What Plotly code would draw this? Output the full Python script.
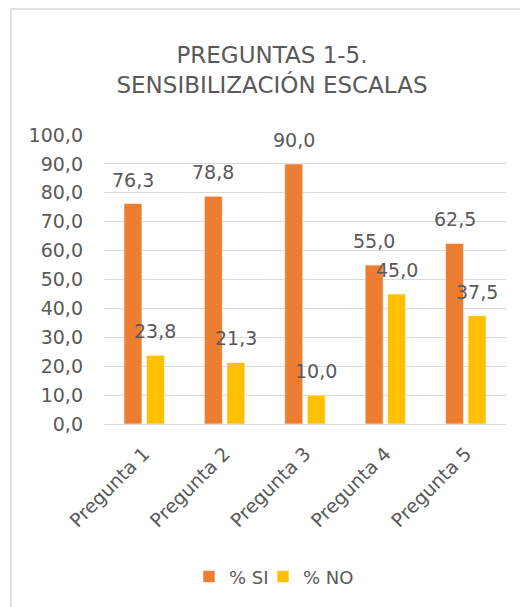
import plotly.graph_objects as go

categories = ["Pregunta 1", "Pregunta 2", "Pregunta 3", "Pregunta 4", "Pregunta 5"]
si_values = [76.3, 78.8, 90.0, 55.0, 62.5]
no_values = [23.8, 21.3, 10.0, 45.0, 37.5]
series_names = ["% SI", "% NO"]
title_text = "PREGUNTAS 1-5.<br>SENSIBILIZACIÓN ESCALAS"
y_ticks = [0, 10, 20, 30, 40, 50, 60, 70, 80, 90, 100]

ORANGE = "#ED7D31"
YELLOW = "#FFC000"
TEXT = "#595959"
GRID = "#D9D9D9"
FONT = "DejaVu Sans"

fig = go.Figure()
fig.add_trace(go.Bar(x=categories, y=si_values, name=series_names[0], legend="legend",
                     marker=dict(color=ORANGE, line=dict(color="white", width=0.6))))
fig.add_trace(go.Bar(x=categories, y=no_values, name=series_names[1], legend="legend2",
                     marker=dict(color=YELLOW, line=dict(color="white", width=0.6))))

# data labels above bars
annotations = []
for vals, shift in ((si_values, -11.25), (no_values, 11.25)):
    for c, v in zip(categories, vals):
        annotations.append(dict(x=c, y=v, xref="x", yref="y", text=f"{v:.1f}".replace(".", ","),
                                showarrow=False, xshift=shift, yshift=24, yanchor="middle",
                                font=dict(family=FONT, size=19, color=TEXT)))

legend_style = dict(orientation="h", xanchor="left", y=-0.529, yanchor="middle",
                    font=dict(family=FONT, size=18, color=TEXT), bgcolor="rgba(0,0,0,0)")

fig.update_layout(
    width=528, height=607,
    margin=dict(l=96, r=30, t=127, b=191),
    paper_bgcolor="white", plot_bgcolor="white",
    separators=",.",
    barmode="group", bargap=0.44, bargroupgap=0.2,
    title=dict(text=title_text, x=264 / 528, xanchor="center", xref="container",
               y=1 - 55 / 607, yanchor="middle", yref="container",
               font=dict(family=FONT, size=23, color=TEXT)),
    font=dict(family=FONT, color=TEXT),
    showlegend=True,
    legend=dict(x=0.2114, **legend_style),
    legend2=dict(x=0.3955, **legend_style),
    annotations=annotations,
    shapes=[dict(type="rect", xref="paper", yref="paper", x0=-0.2313, x1=1.1, y0=-0.7, y1=1.436,
                 line=dict(color=GRID, width=1.5), fillcolor="rgba(0,0,0,0)", layer="below")],
)
fig.update_yaxes(range=[0, 100.01], tickvals=y_ticks, tickformat=".1f", showgrid=True,
                 gridcolor=GRID, gridwidth=1, zeroline=True, zerolinecolor=GRID, zerolinewidth=1,
                 showline=False, ticks="", ticklabelstandoff=20,
                 tickfont=dict(family=FONT, size=19, color=TEXT))
fig.update_xaxes(tickangle=-45, showline=False, ticks="", ticklabelstandoff=14,
                 tickfont=dict(family=FONT, size=19, color=TEXT))

fig.write_html("out.html")
